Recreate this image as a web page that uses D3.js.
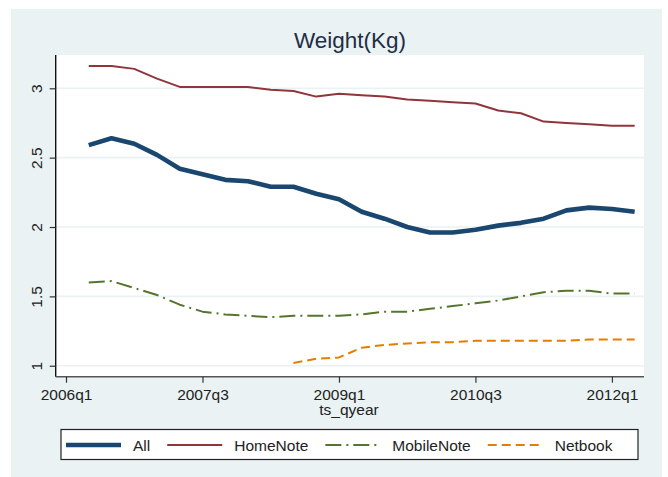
<!DOCTYPE html>
<html>
<head>
<meta charset="utf-8">
<script src="https://cdn.jsdelivr.net/npm/d3@7"></script>
<style>
    body { margin: 0; background: #fff; }
    svg { display: block; font-family: "Liberation Sans", Arial, sans-serif; }
</style>
</head>
<body>
<div id="chart"></div>
<script>
const quarters = ['2006q2', '2006q3', '2006q4', '2007q1', '2007q2', '2007q3', '2007q4', '2008q1', '2008q2',
    '2008q3', '2008q4', '2009q1', '2009q2', '2009q3', '2009q4', '2010q1', '2010q2', '2010q3', '2010q4',
    '2011q1', '2011q2', '2011q3', '2011q4', '2012q1', '2012q2'];
const allWeight = [2.59, 2.64, 2.60, 2.52, 2.42, 2.38, 2.34, 2.33, 2.29, 2.29, 2.24, 2.20, 2.11, 2.06, 2.00,
    1.96, 1.96, 1.98, 2.01, 2.03, 2.06, 2.12, 2.14, 2.13, 2.11];
const homeNote = [3.16, 3.16, 3.14, 3.07, 3.01, 3.01, 3.01, 3.01, 2.99, 2.98, 2.94, 2.96, 2.95, 2.94, 2.92,
    2.91, 2.90, 2.89, 2.84, 2.82, 2.76, 2.75, 2.74, 2.73, 2.73];
const mobileNote = [1.60, 1.61, 1.56, 1.51, 1.44, 1.39, 1.37, 1.36, 1.35, 1.36, 1.36, 1.36, 1.37, 1.39, 1.39,
    1.41, 1.43, 1.45, 1.47, 1.50, 1.53, 1.54, 1.54, 1.52, 1.52];
const netbook = [null, null, null, null, null, null, null, null, null, 1.02, 1.05, 1.06, 1.13, 1.15, 1.16,
    1.17, 1.17, 1.18, 1.18, 1.18, 1.18, 1.18, 1.19, 1.19, 1.19];
const xTickLabels = ['2006q1', '2007q3', '2009q1', '2010q3', '2012q1'];
const yTicks = [1, 1.5, 2, 2.5, 3];
const seriesNames = ['All', 'HomeNote', 'MobileNote', 'Netbook'];

const width = 668;
const height = 477;
const plot = { left: 55.7, right: 644, top: 55, bottom: 376.7 };

// quarter string -> number of quarters since 2006q1
function qIndex(s) {
    const [y, q] = s.split('q').map(Number);
    return (y - 2006) * 4 + (q - 1);
}

const series = [
    { name: seriesNames[0], values: allWeight, color: '#1a476f', width: 4.6, dash: null },
    { name: seriesNames[1], values: homeNote, color: '#90353b', width: 2, dash: null },
    { name: seriesNames[2], values: mobileNote, color: '#55752f', width: 2, dash: '16,5,2,5' },
    { name: seriesNames[3], values: netbook, color: '#e37e00', width: 2, dash: '9,5' }
];

const x = d3.scaleLinear().domain([-0.453, 25.41]).range([plot.left, plot.right]);
const y = d3.scaleLinear().domain([0.921, 3.24]).range([plot.bottom, plot.top]);

const svg = d3.select('#chart').append('svg')
    .attr('width', width)
    .attr('height', height);

svg.append('rect')
    .attr('x', 11).attr('y', 9)
    .attr('width', 651).attr('height', 470)
    .attr('fill', '#eaf2f3');

svg.append('rect')
    .attr('x', plot.left).attr('y', plot.top)
    .attr('width', plot.right - plot.left).attr('height', plot.bottom - plot.top)
    .attr('fill', '#fff');

// gridlines
svg.append('g')
    .selectAll('line')
    .data(yTicks)
    .enter()
    .append('line')
    .attr('x1', plot.left).attr('x2', plot.right)
    .attr('y1', d => y(d)).attr('y2', d => y(d))
    .attr('stroke', '#eaf2f3')
    .attr('stroke-width', 1.6);

// y axis
const yAxis = svg.append('g')
    .attr('transform', `translate(${plot.left},0)`)
    .call(d3.axisLeft(y).tickValues(yTicks).tickSize(6).tickPadding(8).tickFormat(d3.format('')));
yAxis.select('.domain').attr('stroke', '#111').attr('stroke-width', 1.4)
    .attr('d', `M0,${plot.top}V${plot.bottom}`);
yAxis.selectAll('.tick line').attr('stroke', '#333').attr('stroke-width', 1.2);
yAxis.selectAll('.tick text')
    .attr('x', null).attr('dy', null)
    .attr('transform', 'translate(-14,0) rotate(-90)')
    .attr('text-anchor', 'middle')
    .attr('fill', '#222')
    .attr('font-size', '15.5px');

// x axis
const xAxis = svg.append('g')
    .attr('transform', `translate(0,${plot.bottom})`)
    .call(d3.axisBottom(x)
        .tickValues(xTickLabels.map(qIndex))
        .tickSize(6).tickPadding(6)
        .tickFormat((d, i) => xTickLabels[i]));
xAxis.select('.domain').attr('stroke', '#555').attr('stroke-width', 1.4)
    .attr('d', `M${plot.left},0H${plot.right}`);
xAxis.selectAll('.tick line').attr('stroke', '#333').attr('stroke-width', 1.2);
xAxis.selectAll('.tick text')
    .attr('fill', '#222')
    .attr('font-size', '15.5px');

svg.append('text')
    .attr('x', x(qIndex('2009q1')) + 10)
    .attr('y', 415)
    .attr('text-anchor', 'middle')
    .attr('font-size', '15.5px')
    .attr('fill', '#222')
    .text('ts_qyear');

svg.append('text')
    .attr('x', 350)
    .attr('y', 48)
    .attr('text-anchor', 'middle')
    .attr('font-size', '22.5px')
    .attr('fill', '#1f2d46')
    .text('Weight(Kg)');

// lines
const line = d3.line()
    .defined(d => d.v != null)
    .x(d => x(qIndex(d.q)))
    .y(d => y(d.v));

svg.append('g')
    .selectAll('path')
    .data(series.slice().reverse())
    .enter()
    .append('path')
    .attr('d', s => line(quarters.map((q, i) => ({ q: q, v: s.values[i] }))))
    .attr('fill', 'none')
    .attr('stroke', s => s.color)
    .attr('stroke-width', s => s.width)
    .attr('stroke-dasharray', s => s.dash)
    .attr('stroke-linejoin', 'round');

// legend
const legend = svg.append('g');
legend.append('rect')
    .attr('x', 61).attr('y', 429.5)
    .attr('width', 577).attr('height', 30)
    .attr('fill', '#fff')
    .attr('stroke', '#222')
    .attr('stroke-width', 1.2);

let lx = 66;
series.forEach(s => {
    legend.append('line')
        .attr('x1', lx).attr('x2', lx + 55)
        .attr('y1', 445).attr('y2', 445)
        .attr('stroke', s.color)
        .attr('stroke-width', s.width)
        .attr('stroke-dasharray', s.dash);
    const t = legend.append('text')
        .attr('x', lx + 67)
        .attr('y', 450.5)
        .attr('font-size', '15.5px')
        .attr('fill', '#222')
        .text(s.name);
    lx += 67 + t.node().getComputedTextLength() + 17;
});
</script>
</body>
</html>
